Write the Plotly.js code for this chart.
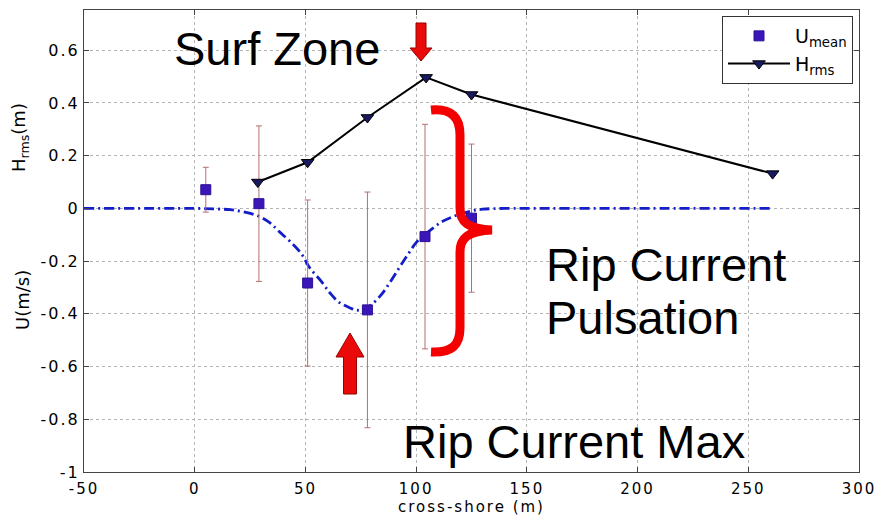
<!DOCTYPE html>
<html>
<head>
<meta charset="utf-8">
<script src="https://cdn.plot.ly/plotly-3.0.1.min.js"></script>
<style>
  html, body { margin: 0; padding: 0; background: #fff; }
  #chart { width: 881px; height: 517px; }
  .xtick text, .ytick text { letter-spacing: 2px; }
  .g-xtitle text { letter-spacing: 2px; }
</style>
</head>
<body>
<div id="chart"></div>
<script>
// ---- data ----
const uX   = [5, 29, 51, 78, 104, 125];
const uY   = [0.071, 0.018, -0.283, -0.385, -0.107, -0.037];
const uErr = [0.085, 0.295, 0.315, 0.447, 0.426, 0.281];

const hX = [28.5, 51, 78, 104.5, 125, 261];
const hY = [0.10, 0.175, 0.345, 0.497, 0.432, 0.132];

const curveX = [-50, 0, 10, 16, 22, 29, 34, 38, 43, 48, 52, 57, 61, 65, 70, 73, 76, 79, 84, 88, 92, 96, 100, 103, 108, 112, 117, 121, 126, 130, 140, 160, 200, 260];
const curveY = [0, 0, -0.002, -0.005, -0.013, -0.03, -0.055, -0.087, -0.125, -0.17, -0.226, -0.275, -0.32, -0.355, -0.377, -0.386, -0.385, -0.371, -0.33, -0.283, -0.23, -0.178, -0.13, -0.106, -0.072, -0.049, -0.03, -0.018, -0.008, -0.003, 0, 0, 0, 0];

const xTickVals = [-50, 0, 50, 100, 150, 200, 250, 300];
const xTickText = ['-50', '0', '50', '100', '150', '200', '250', '300'];
const yTickVals = [-1, -0.8, -0.6, -0.4, -0.2, 0, 0.2, 0.4, 0.6];
const yTickText = ['-1', '-0.8', '-0.6', '-0.4', '-0.2', '0', '0.2', '0.4', '0.6'];

// ---- layout geometry ----
const W = 881, H = 517;
const M = {l: 84, r: 22, t: 10, b: 45};
const xR = [-50, 300], yR = [-1, 0.7527];
const pw = W - M.l - M.r, ph = H - M.t - M.b;
// pixel -> data helpers for decorations
const px2x = p => xR[0] + (p - M.l) / pw * (xR[1] - xR[0]);
const py2y = p => yR[1] - (p - M.t) / ph * (yR[1] - yR[0]);
function pathFrom(cmds) {
  return cmds.map(c => {
    const op = c[0];
    const pts = [];
    for (let i = 1; i < c.length; i += 2) pts.push(px2x(c[i]).toFixed(3) + ',' + py2y(c[i + 1]).toFixed(4));
    return op + pts.join(' ');
  }).join(' ');
}

const downArrow = pathFrom([['M',416,23],['L',426,23],['L',426,48],['L',432,48],['L',421,61],['L',410,48],['L',416,48],['Z']]);
const upArrow = pathFrom([['M',350,333],['L',364,357],['L',356.5,357],['L',356.5,394],['L',343.5,394],['L',343.5,357],['L',336,357],['Z']]);
const brace = pathFrom([['M',431,110],['C',452,108,460,118,460,135],['L',460,208],['C',460,222,468,229,492,230],['C',468,231,460,238,460,252],['L',460,328],['C',460,345,452,353,431,352]]);

const traces = [
  {
    x: curveX, y: curveY, type: 'scatter', mode: 'lines',
    line: {color: 'rgb(20,30,200)', width: 2.8, dash: '10px,4px,2px,4px', shape: 'spline'},
    showlegend: false, hoverinfo: 'skip'
  },
  {
    x: uX, y: uY, type: 'scatter', mode: 'markers', name: 'U<sub>mean</sub>',
    marker: {symbol: 'square', size: 10, color: 'rgb(58,22,185)', line: {color: 'rgb(45,18,150)', width: 1}},
    error_y: {type: 'data', array: uErr, visible: true, color: 'rgb(180,112,112)', thickness: 1, width: 3}
  },
  {
    x: hX, y: hY, type: 'scatter', mode: 'lines+markers', name: 'H<sub>rms</sub>',
    line: {color: '#000', width: 2},
    marker: {symbol: 'triangle-down', size: 11, color: 'rgb(25,25,95)', line: {color: '#000', width: 1}}
  }
];

const bigFont = {family: 'Arial, "Liberation Sans", sans-serif', size: 47, color: '#000'};
const xTickFont = {family: '"DejaVu Sans", sans-serif', size: 15, color: '#000'};
const yTickFont = {family: '"DejaVu Sans", sans-serif', size: 16, color: '#000'};
const titleFont = {family: '"DejaVu Sans", sans-serif', size: 18, color: '#000'};

const layout = {
  width: W, height: H,
  margin: M,
  paper_bgcolor: '#fff', plot_bgcolor: '#fff',
  showlegend: true,
  legend: {
    x: (853 - M.l) / pw, y: 1 - (16 - M.t) / ph, xanchor: 'right', yanchor: 'top',
    bgcolor: '#fff', bordercolor: '#333', borderwidth: 1,
    font: {family: '"DejaVu Sans", sans-serif', size: 19, color: '#000'},
    itemwidth: 62, tracegroupgap: 0
  },
  xaxis: {
    range: xR, tickmode: 'array', tickvals: xTickVals, ticktext: xTickText,
    ticks: 'inside', ticklen: 5, tickcolor: '#444', mirror: 'ticks',
    showline: true, linecolor: '#444', linewidth: 1,
    showgrid: true, gridcolor: '#b5b5b5', griddash: 'dot', gridwidth: 1,
    zeroline: false, tickfont: xTickFont, ticklabelstandoff: 3,
    title: {text: 'cross-shore (m)', font: {family: '"DejaVu Sans", sans-serif', size: 15, color: '#000'}, standoff: 0}
  },
  yaxis: {
    range: yR, tickmode: 'array', tickvals: yTickVals, ticktext: yTickText,
    ticks: 'inside', ticklen: 5, tickcolor: '#444', mirror: 'ticks',
    showline: true, linecolor: '#444', linewidth: 1,
    showgrid: true, gridcolor: '#b5b5b5', griddash: 'dot', gridwidth: 1,
    zeroline: false, tickfont: yTickFont
  },
  annotations: [
    {text: 'Surf Zone', xref: 'x', yref: 'y', x: px2x(172), y: py2y(48), xanchor: 'left', yanchor: 'middle', showarrow: false, font: bigFont},
    {text: 'Rip Current', xref: 'x', yref: 'y', x: px2x(544), y: py2y(264), xanchor: 'left', yanchor: 'middle', showarrow: false, font: bigFont},
    {text: 'Pulsation', xref: 'x', yref: 'y', x: px2x(544), y: py2y(317), xanchor: 'left', yanchor: 'middle', showarrow: false, font: bigFont},
    {text: 'Rip Current Max', xref: 'x', yref: 'y', x: px2x(401), y: py2y(441), xanchor: 'left', yanchor: 'middle', showarrow: false, font: bigFont},
    {text: 'H<sub>rms</sub>(m)', xref: 'paper', yref: 'y', x: (20 - M.l) / pw, y: py2y(138), xanchor: 'center', yanchor: 'middle', textangle: -90, showarrow: false, font: titleFont},
    {text: 'U(m/s)', xref: 'paper', yref: 'y', x: (22 - M.l) / pw, y: py2y(300), xanchor: 'center', yanchor: 'middle', textangle: -90, showarrow: false, font: titleFont}
  ],
  shapes: [
    {type: 'path', xref: 'x', yref: 'y', path: downArrow, fillcolor: 'rgb(235,10,10)', line: {color: 'rgb(150,0,0)', width: 1}},
    {type: 'path', xref: 'x', yref: 'y', path: upArrow, fillcolor: 'rgb(235,10,10)', line: {color: 'rgb(150,0,0)', width: 1}},
    {type: 'path', xref: 'x', yref: 'y', path: brace, fillcolor: 'rgba(0,0,0,0)', line: {color: 'rgb(245,0,0)', width: 9}}
  ]
};

Plotly.newPlot('chart', traces, layout, {displayModeBar: false, staticPlot: true});
</script>
</body>
</html>
